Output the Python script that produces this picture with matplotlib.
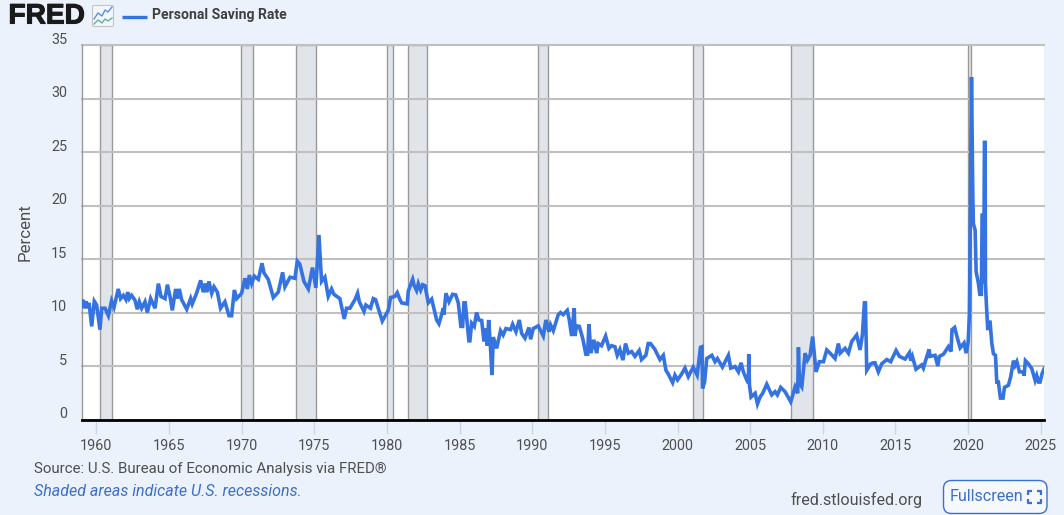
import matplotlib
matplotlib.use("Agg")
import matplotlib.pyplot as plt
import matplotlib.patheffects as pe
from matplotlib.patches import FancyBboxPatch

plt.rcParams['font.family'] = ['Roboto', 'DejaVu Sans']

series_name = "Personal Saving Rate"
y_ticks = [0, 5, 10, 15, 20, 25, 30, 35]
x_ticks = [1960, 1965, 1970, 1975, 1980, 1985, 1990, 1995, 2000, 2005, 2010, 2015, 2020, 2025]

recessions = [(1960.23, 1961.05), (1969.94, 1970.81), (1973.76, 1975.12), (1979.98, 1980.44),
              (1981.47, 1982.78), (1990.42, 1991.11), (2001.09, 2001.78), (2007.83, 2009.35),
              (2020.01, 2020.18)]

years = [
    1959.00, 1959.06, 1959.15, 1959.29, 1959.38, 1959.50, 1959.68, 1959.86, 1960.02, 1960.25, 1960.37, 1960.60,
    1960.83, 1961.05, 1961.22, 1961.51, 1961.67, 1961.86, 1962.04, 1962.16, 1962.27, 1962.43, 1962.66,
    1962.82, 1962.96, 1963.12, 1963.35, 1963.51, 1963.74, 1964.04, 1964.27, 1964.45, 1964.73, 1964.89,
    1965.07, 1965.23, 1965.46, 1965.58, 1965.71, 1965.87, 1966.22, 1966.49, 1966.60, 1966.90, 1967.18,
    1967.36, 1967.50, 1967.59, 1967.75, 1967.94, 1968.10, 1968.33, 1968.55, 1968.85, 1969.13, 1969.31,
    1969.50, 1969.66, 1970.00, 1970.23, 1970.39, 1970.53, 1970.69, 1970.87, 1971.15, 1971.40, 1971.54,
    1971.83, 1972.18, 1972.52, 1972.82, 1972.98, 1973.33, 1973.67, 1973.83, 1974.01, 1974.29, 1974.59,
    1974.88, 1975.11, 1975.32, 1975.50, 1975.73, 1975.96, 1976.19, 1976.35, 1976.76, 1977.06, 1977.22,
    1977.45, 1977.80, 1977.98, 1978.10, 1978.42, 1978.55, 1978.87, 1979.06, 1979.22, 1979.40, 1979.68,
    1980.09, 1980.25, 1980.55, 1980.71, 1980.90, 1981.01, 1981.40, 1981.47, 1981.77, 1981.88, 1982.04,
    1982.16, 1982.32, 1982.46, 1982.62, 1982.85, 1983.08, 1983.42, 1983.58, 1983.72, 1983.88, 1983.92,
    1984.06, 1984.27, 1984.52, 1984.73, 1984.91, 1985.09, 1985.21, 1985.30, 1985.39, 1985.64, 1985.71,
    1985.83, 1986.01, 1986.17, 1986.33, 1986.52, 1986.68, 1986.77, 1986.91, 1987.00, 1987.11, 1987.23,
    1987.32, 1987.55, 1987.82, 1988.00, 1988.19, 1988.51, 1988.65, 1988.88, 1989.11, 1989.27, 1989.50,
    1989.77, 1989.89, 1990.07, 1990.41, 1990.76, 1990.94, 1991.15, 1991.26, 1991.45, 1991.79, 1991.95,
    1992.13, 1992.41, 1992.55, 1992.71, 1992.89, 1992.94, 1993.05, 1993.24, 1993.47, 1993.69, 1993.81,
    1993.90, 1994.04, 1994.24, 1994.43, 1994.54, 1994.77, 1995.05, 1995.28, 1995.46, 1995.69, 1995.85,
    1996.03, 1996.24, 1996.42, 1996.61, 1996.84, 1997.07, 1997.36, 1997.52, 1997.82, 1997.98, 1998.14,
    1998.44, 1998.79, 1999.02, 1999.20, 1999.36, 1999.66, 1999.82, 2000.00, 2000.28, 2000.51, 2000.74,
    2001.08, 2001.35, 2001.58, 2001.68, 2001.72, 2001.86, 2002.01, 2002.36, 2002.58, 2002.74, 2003.09,
    2003.50, 2003.66, 2003.96, 2004.19, 2004.37, 2004.53, 2004.76, 2004.88, 2004.90, 2004.95, 2005.06,
    2005.34, 2005.50, 2005.68, 2005.86, 2006.14, 2006.48, 2006.71, 2006.87, 2007.10, 2007.40, 2007.79,
    2008.09, 2008.27, 2008.32, 2008.39, 2008.55, 2008.78, 2008.94, 2009.12, 2009.30, 2009.53, 2009.76,
    2010.04, 2010.27, 2010.50, 2010.84, 2011.07, 2011.19, 2011.53, 2011.76, 2011.99, 2012.33, 2012.56,
    2012.72, 2012.86, 2012.93, 2013.02, 2013.29, 2013.48, 2013.59, 2013.82, 2014.05, 2014.40, 2014.67,
    2015.04, 2015.27, 2015.66, 2015.96, 2016.05, 2016.16, 2016.41, 2016.80, 2016.92, 2017.08, 2017.31,
    2017.38, 2017.72, 2017.91, 2018.02, 2018.30, 2018.64, 2018.82, 2018.89, 2019.07, 2019.26, 2019.45,
    2019.72, 2019.86, 2020.00, 2020.09, 2020.23, 2020.32, 2020.36, 2020.48, 2020.55, 2020.71, 2020.80,
    2020.91, 2020.96, 2021.03, 2021.07, 2021.12, 2021.17, 2021.19, 2021.24, 2021.35, 2021.42, 2021.51,
    2021.63, 2021.74, 2021.88, 2021.97, 2022.08, 2022.22, 2022.40, 2022.50, 2022.77, 2022.93, 2023.12,
    2023.23, 2023.35, 2023.53, 2023.80, 2023.85, 2023.94, 2024.15, 2024.38, 2024.61, 2024.72, 2024.84,
    2024.95, 2025.09, 2025.23,
]

values = [
    10.9, 11.2, 10.4, 11.05, 10.4, 10.9, 8.7, 11.05, 10.7, 8.4, 10.4, 10.4,
    9.7, 11.1, 10.5, 12.2, 11.3, 11.6, 11.2, 11.9, 11.3, 11.6, 11.15,
    10.3, 11.0, 10.4, 11.0, 10.0, 11.3, 10.4, 12.7, 11.5, 11.3, 12.6,
    11.5, 10.2, 12.2, 11.3, 12.2, 11.2, 10.3, 11.3, 10.8, 11.8, 13.0,
    11.9, 12.7, 11.9, 12.9, 11.8, 12.4, 11.9, 10.4, 11.0, 9.7, 9.7,
    12.1, 11.3, 11.8, 13.2, 12.2, 13.5, 12.7, 13.4, 13.1, 14.6, 13.7,
    13.1, 11.4, 11.9, 13.75, 12.4, 13.3, 13.2, 14.8, 14.5, 12.9, 12.2,
    14.2, 12.3, 17.25, 12.9, 13.3, 11.5, 12.2, 11.7, 11.3, 9.4, 10.4,
    10.4, 11.2, 11.8, 11.0, 10.1, 10.7, 10.4, 11.3, 11.2, 10.4, 9.2,
    10.2, 11.4, 11.5, 11.85, 11.2, 10.9, 10.8, 12.0, 13.1, 12.5, 12.05,
    12.7, 12.1, 12.6, 12.5, 10.9, 11.25, 9.3, 8.95, 9.6, 10.4, 9.8,
    11.8, 11.0, 11.7, 11.65, 10.9, 8.7, 8.7, 10.9, 10.9, 7.35, 7.35,
    9.0, 8.7, 10.0, 9.3, 9.25, 7.3, 8.5, 6.9, 9.3, 7.1, 4.15,
    7.7, 6.65, 8.3, 7.9, 8.5, 8.4, 8.9, 8.2, 9.3, 8.05, 7.6,
    8.6, 7.5, 8.5, 8.75, 7.8, 9.3, 8.2, 8.85, 8.3, 9.8, 10.0,
    9.8, 10.2, 9.3, 7.8, 10.4, 7.8, 8.75, 8.7, 7.6, 6.1, 6.1,
    8.9, 6.2, 7.45, 6.2, 7.1, 6.9, 7.8, 6.65, 6.9, 6.8, 6.0,
    6.55, 5.55, 7.1, 6.2, 6.35, 5.9, 6.45, 5.6, 6.0, 7.1, 7.1,
    6.55, 5.6, 6.0, 4.6, 4.25, 3.45, 4.15, 3.7, 4.25, 4.8, 4.0,
    4.9, 4.15, 6.75, 6.8, 2.9, 3.5, 5.7, 6.0, 5.4, 5.7, 4.9,
    6.0, 4.8, 4.95, 4.45, 5.3, 4.45, 3.7, 3.4, 6.1, 3.2, 2.1,
    2.45, 1.45, 2.1, 2.45, 3.3, 2.3, 2.6, 2.3, 3.0, 2.6, 1.65,
    3.05, 2.45, 6.75, 3.4, 3.05, 6.2, 5.55, 6.0, 7.75, 4.45, 5.4,
    5.4, 6.5, 6.2, 5.7, 7.1, 6.2, 6.65, 6.2, 7.3, 7.9, 6.5,
    7.9, 10.9, 10.9, 4.6, 5.2, 5.3, 5.3, 4.45, 5.2, 5.6, 5.4,
    6.45, 5.9, 5.65, 6.25, 5.5, 5.9, 4.7, 5.1, 4.8, 5.55, 6.55,
    5.9, 6.0, 5.0, 5.9, 6.1, 6.8, 6.35, 8.4, 8.6, 7.6, 6.7,
    7.15, 6.2, 7.25, 9.9, 32.0, 21.0, 18.3, 17.7, 13.8, 12.7, 11.7,
    11.7, 19.1, 19.1, 12.7, 25.9, 25.9, 12.7, 11.2, 8.35, 9.1, 9.1,
    7.1, 6.15, 6.0, 3.5, 3.5, 2.0, 2.0, 3.0, 3.2, 4.0, 5.5,
    5.05, 5.4, 4.45, 4.45, 4.1, 5.5, 5.2, 4.75, 3.65, 4.1, 3.5,
    3.5, 4.3, 4.75,
]

W, H = 1064, 515
BG = '#ebf2fb'
BLUE = '#3573e0'
TXT = '#4f4f4f'

fig = plt.figure(figsize=(W / 100, H / 100), dpi=100, facecolor=BG)
L, R, T, B = 81.5, 1044, 45, 419.5
ax = fig.add_axes([L / W, 1 - B / H, (R - L) / W, (B - T) / H], facecolor='white')

for a, b in recessions:
    ax.axvspan(a, b, facecolor='#e1e5ea', edgecolor='#999999', lw=1.0, zorder=1)
for v in y_ticks:
    ax.axhline(v, color='#c0c0c0', lw=1.5, zorder=2, clip_on=False)
ax.plot(years, values, color=BLUE, lw=2.6, zorder=3, solid_joinstyle='miter')

ax.set_xlim(1958.98, 2025.22)
ax.set_ylim(0, 35)
ax.set_xticks(x_ticks)
ax.set_yticks(y_ticks)
ax.set_yticklabels([])
ax.tick_params(axis='y', length=0)
ax.tick_params(axis='x', length=10, width=1, color='#ccd6eb', pad=4, labelsize=10.4, labelcolor=TXT)
for v in y_ticks:
    ax.annotate(str(v), xy=(0, v), xycoords=('axes fraction', 'data'), xytext=(-14.5, 5.2),
                textcoords='offset pixels', ha='right', va='center', fontsize=10.4, color=TXT,
                annotation_clip=False)
for s in ('top', 'right'):
    ax.spines[s].set_visible(False)
ax.spines['left'].set_color('#999999')
ax.spines['left'].set_linewidth(1.0)
ax.spines['bottom'].set_color('black')
ax.spines['bottom'].set_linewidth(2.0)
ax.spines['bottom'].set_zorder(5)

# Page-level overlay in pixel coordinates
ov = fig.add_axes([0, 0, 1, 1], facecolor='none')
ov.set_xlim(0, W)
ov.set_ylim(H, 0)
ov.axis('off')

ov.text(8.5, 16.5, 'FRED', fontsize=20.2, fontweight='bold', color='#1a1a1a', family=['Liberation Sans'],
        va='center', ha='left',
        path_effects=[pe.withStroke(linewidth=0.8, foreground='#1a1a1a')])
ov.add_patch(FancyBboxPatch((92.5, 5.5), 21, 21, boxstyle='round,pad=0,rounding_size=1.5',
                            fc='#f3f6fb', ec='#c4c4c4', lw=0.8))
ov.plot([94, 98, 102, 105, 108, 112], [19, 13, 16, 10, 12, 7], color='#5b8fe0', lw=1.0)
ov.plot([94, 98, 102, 105, 108, 112], [24, 20, 23, 19, 21, 18], color='#5fb59c', lw=1.0)
ov.plot([122, 147], [17, 17], color=BLUE, lw=2.4, solid_capstyle='butt')
ov.text(152, 15.5, series_name, fontsize=10.1, fontweight='bold', color='#3f3f3f', va='center', ha='left')

ov.text(25, 232, 'Percent', rotation=90, fontsize=12.2, color=TXT, va='center', ha='center')
ov.text(34, 469, 'Source: U.S. Bureau of Economic Analysis via FRED®', fontsize=10.8, color=TXT,
        va='center', ha='left')
ov.text(34, 491.5, 'Shaded areas indicate U.S. recessions.', fontsize=11.5, style='italic', color='#3c6fc9',
        va='center', ha='left')
ov.text(790, 499.5, 'fred.stlouisfed.org', fontsize=11.6, color=TXT, va='center', ha='left')
ov.add_patch(FancyBboxPatch((943.5, 480.5), 103.5, 33, boxstyle='round,pad=0,rounding_size=8',
                            fc='#f5f8fd', ec='#3c6fd4', lw=1.0))
ov.text(950, 496.5, 'Fullscreen', fontsize=11.6, color='#3c6fc9', va='center', ha='left')
for (cx, cy, dx, dy) in [(1028, 491, 1, 1), (1041, 491, -1, 1), (1028, 503, 1, -1), (1041, 503, -1, -1)]:
    ov.plot([cx + 4 * dx, cx, cx], [cy, cy, cy + 4 * dy], color='#3c6fd4', lw=1.6, solid_capstyle='butt')

fig.savefig('out.png', dpi=100, facecolor=BG)
